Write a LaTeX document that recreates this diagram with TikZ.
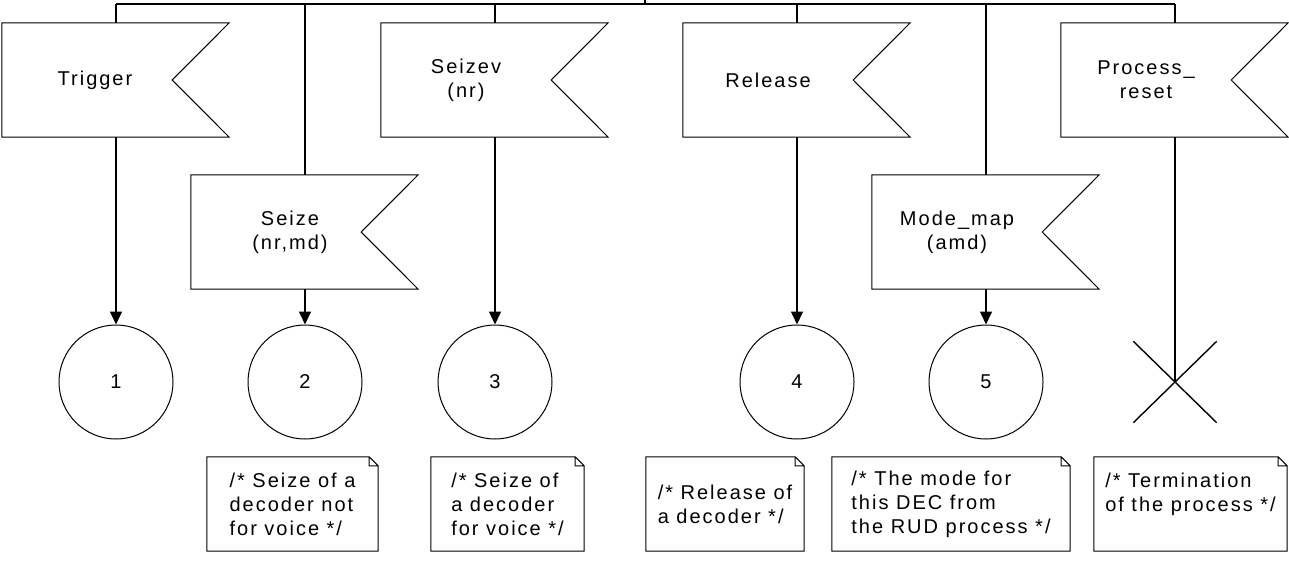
\documentclass[tikz,border=0pt]{standalone}
\usepackage{fontspec}
\setmainfont{Liberation Sans}[LetterSpace=10]
\usepackage{tikz}
\usetikzlibrary{arrows.meta, shapes.misc}

\tikzset{
  shapeline/.style={line width=1pt},
  insig/.style={minimum width=170pt, minimum height=114pt, inner sep=0pt, align=center},
  state/.style={circle, draw, line width=1pt, minimum size=114pt, inner sep=0pt},
  stopx/.style={cross out, draw, line width=1.4pt, minimum width=82pt, minimum height=80pt, inner sep=0pt},
  cmt/.style={minimum height=94pt, inner sep=0pt, align=left},
  flow/.style={line width=1.5pt},
  tip/.style={flow, -{Triangle[width=12pt,length=13pt]}}
}

\begin{document}
\begin{tikzpicture}[x=1pt, y=-1pt, font=\fontsize{20}{24}\selectfont]
            \useasboundingbox (0,0) rectangle (1289,562);
            \node[insig] (trig) at (87,80) {\hspace*{16pt}Trigger};
            \node[insig] (seizev) at (466,80) {Seizev\\(nr)};
            \node[insig] (rel) at (768,80) {Release};
            \node[insig] (preset) at (1146,80) {Process\_\\reset};
            \node[insig] (seize) at (276,232) {\hspace*{28pt}Seize\\\hspace*{28pt}(nr,md)};
            \node[insig] (mmap) at (957,232) {Mode\_map\\(amd)};
            \foreach \n in {trig,seize,seizev,rel,mmap,preset}
                \draw[shapeline] (\n.north west) -- ([xshift=57pt]\n.north east) -- (\n.east)
                    -- ([xshift=57pt]\n.south east) -- (\n.south west) -- cycle;
            \node[state] (c1) at (116,382) {1};
            \node[state] (c2) at (305,382) {2};
            \node[state] (c3) at (495,382) {3};
            \node[state] (c4) at (797,382) {4};
            \node[state] (c5) at (986,382) {5};
            \node[stopx] (stop) at (1175,382) {};
            \node[cmt, minimum width=171pt] (n2) at (292.5,504) {/* Seize of a\\decoder not\\for voice */};
            \node[cmt, minimum width=153pt] (n3) at (507.5,504) {/* Seize of\\a decoder\\for voice */};
            \node[cmt, minimum width=158pt] (n4) at (725,504) {/* Release of\\a decoder */};
            \node[cmt, minimum width=238pt] (n5) at (951,504) {/* The mode for\\this DEC from\\the RUD process */};
            \node[cmt, minimum width=193pt] (n6) at (1190.5,504) {/* Termination\\of the process */\\\mbox{}};
            \foreach \n in {n2,n3,n4,n5,n6}
                \draw[shapeline] (\n.north west) -- ([xshift=-9pt]\n.north east) -- ([yshift=-9pt]\n.north east)
                    -- (\n.south east) -- (\n.south west) -- cycle
                    ([xshift=-9pt]\n.north east) |- ([yshift=-9pt]\n.north east);
            \coordinate (entry) at (645,0);
            \coordinate (fork) at (645,4);
            \draw[flow] (entry) -- (fork);
            \draw[flow] (c1 |- fork) -- (stop |- fork);
            \foreach \f/\c in {trig/c1, seize/c2, seizev/c3, rel/c4, mmap/c5, preset/stop}
                \draw[flow] (\c |- fork) -- (\f.north -| \c);
            \foreach \f/\c in {trig/c1, seize/c2, seizev/c3, rel/c4, mmap/c5}
                \draw[tip] (\f.south -| \c) -- (\c);
            \draw[flow] (preset.south -| stop) -- (stop.center);
        \end{tikzpicture}
\end{document}
